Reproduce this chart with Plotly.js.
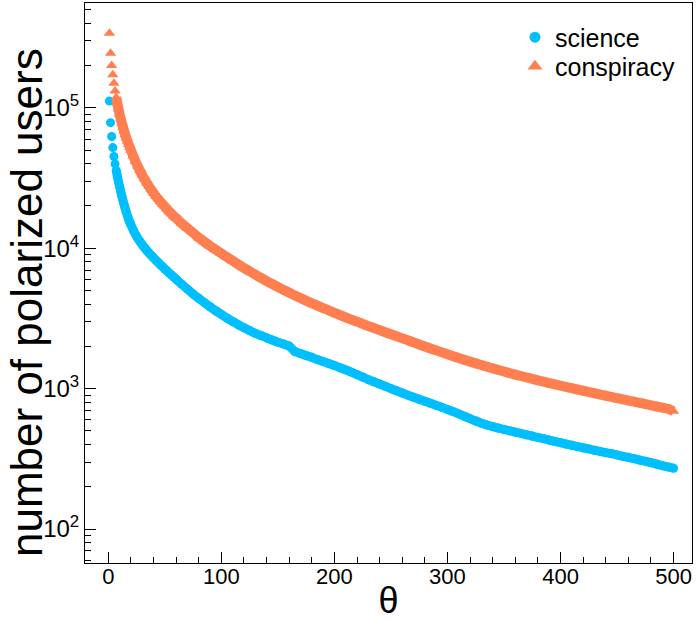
<!DOCTYPE html>
<html><head><meta charset="utf-8">
<script src="https://cdn.plot.ly/plotly-3.0.1.min.js"></script>
<style>html,body{margin:0;padding:0;background:#fff}</style>
</head><body><div id="chart" style="width:697px;height:621px"></div>
<script>
const theta = [1,2,3,4,5,6,7,8,9,10,11,12,13,14,15,16,17,18,19,20,
  22,24,26,28,30,32,34,36,38,40,42,44,46,48,50,52,54,56,58,60,
  65,70,75,80,85,90,95,100,105,110,115,120,125,130,135,140,145,150,155,160,
  165,170,175,180,185,190,195,200,205,210,215,220,225,230,235,240,
  245,250,255,260,265,270,275,280,285,290,295,300,
  305,310,315,320,325,330,335,340,345,350,355,360,365,370,375,380,385,390,395,400,
  405,410,415,420,425,430,435,440,445,450,455,460,465,470,475,480,485,490,495,500];

const science = [112000,78500,62500,52100,45000,39900,35900,32500,29800,27500,25400,23500,21800,20400,19100,18000,17000,16100,15300,14700,
  13500,12600,11800,11160,10590,10100,9660,9260,8890,8550,8230,7930,7640,7380,7120,6880,6650,6430,6220,6020,
  5540,5110,4730,4400,4100,3830,3590,3380,3180,3010,2850,2710,2590,2480,2390,2300,2220,2140,2080,2010,
  1840,1780,1720,1670,1610,1560,1510,1460,1410,1360,1310,1260,1210,1160,1120,1080,
  1040,1000,965,931,899,869,840,813,786,760,736,711,
  686,661,635,611,588,568,551,537,524,512,501,490,480,469,459,449,440,430,421,412,
  403,395,387,379,372,364,357,350,344,337,330,324,317,310,304,297,290,283,277,271];

const conspiracy = [340000,245000,200000,172000,150000,132000,118600,107400,98200,90400,83600,77800,72800,68400,64400,61000,57800,55000,52400,50000,
  45500,41700,38500,35600,33200,31100,29200,27600,26100,24800,23600,22500,21500,20600,19800,19000,18200,17600,16900,16400,
  15000,13900,12900,11900,11100,10400,9770,9180,8640,8140,7670,7240,6850,6490,6150,5840,5560,5300,5050,4830,
  4610,4420,4230,4060,3900,3750,3610,3470,3340,3220,3100,3000,2890,2790,2700,2610,
  2520,2440,2360,2280,2210,2135,2065,1998,1934,1873,1813,1756,
  1702,1652,1603,1558,1514,1472,1432,1395,1358,1324,1291,1260,1230,1201,1174,1147,1121,1096,1073,1050,
  1028,1007,986,966,946,927,908,890,873,856,839,823,807,792,776,761,746,732,718,690];

const seriesNames = ['science', 'conspiracy'];
const yTickVals = [100, 1000, 10000, 100000];
const yTickText = ['10<sup>2</sup>', '10<sup>3</sup>', '10<sup>4</sup>', '10<sup>5</sup>'];
const xTickVals = [0, 100, 200, 300, 400, 500];

const minorY = [];
for (let e = 1; e <= 5; e++) for (let d = 2; d <= 9; d++) minorY.push(d * Math.pow(10, e));

const blue = '#00BFFF';
const orange = '#FF7F50';
const FONT = 'Liberation Sans, Arial, Helvetica, sans-serif';
const dense = 6; // from this index on, the reference points merge into a solid band

const traces = [
  {x: theta.slice(dense), y: science.slice(dense), type: 'scatter', mode: 'lines', showlegend: false, hoverinfo: 'skip',
   line: {color: blue, width: 9, shape: 'spline', smoothing: 0.6}},
  {x: theta, y: science, type: 'scatter', mode: 'markers', name: seriesNames[0], showlegend: false,
   marker: {symbol: 'circle', size: 9, color: blue, line: {width: 0}}},
  {x: theta.slice(dense), y: conspiracy.slice(dense), type: 'scatter', mode: 'lines', showlegend: false, hoverinfo: 'skip',
   line: {color: orange, width: 10, shape: 'spline', smoothing: 0.6}},
  {x: theta, y: conspiracy, type: 'scatter', mode: 'markers', name: seriesNames[1], showlegend: false,
   marker: {symbol: 'triangle-up', size: 10, color: orange, line: {width: 0}}},
  {x: [null], y: [null], type: 'scatter', mode: 'markers', name: seriesNames[0], legend: 'legend',
   marker: {symbol: 'circle', size: 11, color: blue, line: {width: 0}}},
  {x: [null], y: [null], type: 'scatter', mode: 'markers', name: seriesNames[1], legend: 'legend2',
   marker: {symbol: 'triangle-up', size: 13, color: orange, line: {width: 0}}}
];

const legendFont = {size: 25, family: FONT, color: '#000'};
const layout = {
  width: 697, height: 621,
  margin: {l: 85, r: 5, t: 3, b: 58, pad: 0},
  paper_bgcolor: '#fff', plot_bgcolor: '#fff',
  font: {family: FONT, color: '#000'},
  showlegend: true,
  legend: {x: 0.7084, xanchor: 'left', y: 0.9795, yanchor: 'top', bgcolor: 'rgba(0,0,0,0)', font: legendFont},
  legend2: {x: 0.7084, xanchor: 'left', y: 0.9277, yanchor: 'top', bgcolor: 'rgba(0,0,0,0)', font: legendFont},
  xaxis: {
    range: [-20.6, 516.3], tickmode: 'array', tickvals: xTickVals,
    ticks: 'inside', ticklen: 11, tickwidth: 1, tickcolor: '#000',
    showline: true, linecolor: '#000', linewidth: 1, mirror: true,
    showgrid: false, zeroline: false,
    tickfont: {size: 22, family: FONT, color: '#000'},
    ticklabelstandoff: -6,
    minor: {tickmode: 'linear', tick0: 0, dtick: 20, ticks: 'inside', ticklen: 6, tickwidth: 1, tickcolor: '#000', showgrid: false},
    title: {text: 'θ', font: {size: 36, family: FONT, color: '#000'}, standoff: 16}
  },
  yaxis: {
    type: 'log', range: [1.758, 5.747], tickmode: 'array', tickvals: yTickVals, ticktext: yTickText,
    ticks: 'inside', ticklen: 11, tickwidth: 1, tickcolor: '#000',
    showline: true, linecolor: '#000', linewidth: 1, mirror: true,
    showgrid: false, zeroline: false,
    tickfont: {size: 24, family: FONT, color: '#000'},
    minor: {tickmode: 'array', tickvals: minorY, ticks: 'inside', ticklen: 6, tickwidth: 1, tickcolor: '#000', showgrid: false}
  },
  annotations: [{
    text: 'number of polarized users', textangle: -90, showarrow: false,
    xref: 'paper', yref: 'paper', x: -0.0955, y: 0.4643, xanchor: 'center', yanchor: 'middle',
    font: {size: 44, family: FONT, color: '#000'}
  }]
};

Plotly.newPlot('chart', traces, layout, {displayModeBar: false, staticPlot: true});
</script></body></html>
